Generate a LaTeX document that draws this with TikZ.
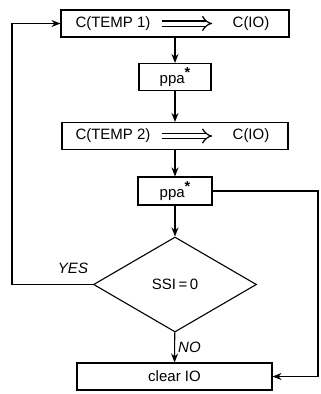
\documentclass[tikz,border=0pt]{standalone}
\usepackage{fontspec}
\setsansfont{Liberation Sans}
\usetikzlibrary{shapes.geometric,positioning,arrows.meta}

\begin{document}
\begin{tikzpicture}[x=1pt,y=-1pt]
        \tikzstyle{every node}=[font=\sffamily\fontsize{15}{17}\selectfont]
        \tikzstyle{block}=[rectangle,draw,line width=1.1pt,minimum height=27pt,inner sep=2pt]
        \tikzstyle{test}=[diamond,draw,line width=1.1pt,minimum width=163pt,minimum height=95pt,inner sep=0pt]
        \tikzstyle{flow}=[draw,line width=1.1pt,-{Stealth[length=9pt,width=7pt]}]
        \tikzstyle{moves}=[draw,double,double distance=4pt,line width=1.2pt,-{Implies},shorten >=17pt,shorten <=8pt]
        \tikzstyle{answer}=[font=\sffamily\itshape\fontsize{15}{17}\selectfont]
        \newcommand{\ppastar}{ppa\raisebox{6pt}{\bfseries\Large *}}
        \useasboundingbox (0,0) rectangle (321,394);
        % transfer boxes
        \node[block,minimum width=228pt] (temp1) at (175,23.5) {};
        \node (src1) at (113,23.5) {C(TEMP 1)};
        \node (dst1) at (251,23.5) {C(IO)};
        \node[block,minimum width=72pt] (ppa1) at (175,77) {\ppastar};
        \node[block,minimum width=226pt] (temp2) at (175,136) {};
        \node (src2) at (113,136) {C(TEMP 2)};
        \node (dst2) at (251,136) {C(IO)};
        \node[block,minimum width=74pt,minimum height=28pt] (ppa2) at (175,191) {\ppastar};
        \node[test] (ssi) at (175,284.5) {SSI\,=\,0};
        \node[block,minimum width=195pt] (clear) at (174.5,376.5) {clear IO};
        \coordinate (lft) at (12,0 |- ssi.west);
        \coordinate (rgt) at (318,0 |- ppa2.east);
        \draw[moves] (src1) -- (dst1);
        \draw[moves] (src2) -- (dst2);
        \draw[flow] (temp1) -- (ppa1);
        \draw[flow] (ppa1) -- (temp2);
        \draw[flow] (temp2) -- (ppa2);
        \draw[flow] (ppa2) -- (ssi);
        \draw[flow] (ssi) -- node[right,answer,inner sep=3pt] {NO} (clear);
        \draw[flow] (ssi.west) -- (lft) |- (temp1.west);
        \draw[flow] (ppa2.east) -- (rgt) |- (clear.east);
        \node[answer] (yes) at (73,268) {YES};
\end{tikzpicture}
\end{document}
